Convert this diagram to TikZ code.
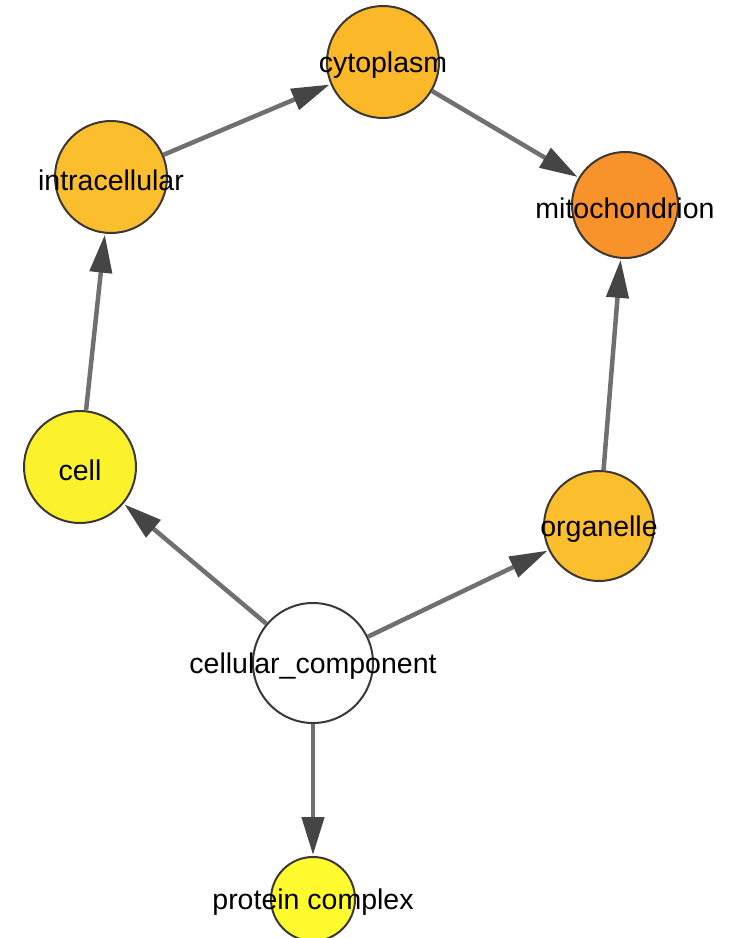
\documentclass[tikz,border=0pt]{standalone}
\usepackage{fontspec}
\setmainfont{Liberation Sans}
\usetikzlibrary{arrows.meta}
\definecolor{rim}{HTML}{3C3836}
\definecolor{edgegray}{HTML}{707070}
\definecolor{tipgray}{HTML}{454545}
\definecolor{amberA}{HTML}{FBB829}
\definecolor{amberB}{HTML}{FBBE2C}
\definecolor{orangeA}{HTML}{F8922A}
\definecolor{lemonA}{HTML}{FBF22B}
\definecolor{lemonB}{HTML}{FFFB2E}
\tikzset{
  term/.style={circle, draw=rim, line width=2pt, inner sep=0pt, minimum size=#1},
  term/.default=112pt,
  lbl/.style={font=\fontsize{28.5}{31}\selectfont, text=black, yshift=-3pt},
  link/.style={-{Triangle[length=38pt,width=22pt,color=tipgray]}, draw=edgegray, line width=4.5pt, shorten >=1pt}
}
\begin{document}
\begin{tikzpicture}[x=1pt, y=-1pt]
  \useasboundingbox (0,0) rectangle (741,938);
  % terms
  \node[term, fill=amberA] (cyto) at (383,62) {};
  \node[term, fill=amberB] (intra) at (111,177) {};
  \node[term=106pt, fill=orangeA] (mito) at (625,205) {};
  \node[term, fill=lemonA] (cell) at (80,467) {};
  \node[term=110pt, fill=amberB] (org) at (599,526) {};
  \node[term=120pt, fill=white] (cc) at (313,663) {};
  \node[term=84pt, fill=lemonB] (pc) at (313,899) {};
  % is_a links
  \draw[link] (cc) -- (cell);
  \draw[link] (cc) -- (org);
  \draw[link] (cc) -- (pc);
  \draw[link] (cell) -- (intra);
  \draw[link] (intra) -- (cyto);
  \draw[link] (cyto) -- (mito);
  \draw[link] (org) -- (mito);
  % labels
  \node[lbl] at (cyto) {cytoplasm};
  \node[lbl] at (intra) {intracellular};
  \node[lbl] at (mito) {mitochondrion};
  \node[lbl] at (cell) {cell};
  \node[lbl] at (org) {organelle};
  \node[lbl] at (cc) {cellular\_component};
  \node[lbl] at (pc) {protein complex};
\end{tikzpicture}
\end{document}
